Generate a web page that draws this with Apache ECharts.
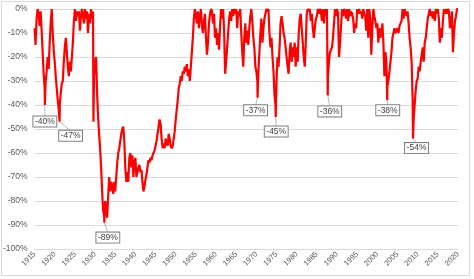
<!DOCTYPE html>
<html><head><meta charset="utf-8">
<script src="https://cdn.jsdelivr.net/npm/echarts@6/dist/echarts.min.js"></script>
<style>html,body{margin:0;padding:0;background:#fff}#c{width:474px;height:279px}</style>
</head><body><div id="c"></div>
<script>
// Quarterly drawdown values (%), one array per decade
const q1915 = [-8,-15,-4,0, -2,-7,-1,-9, -18,-27,-33,-30, -26,-20,-25,-14, -6,0,-10,-17, -22,-28,-33,-38, -42,-40,-35,-31, -30,-22,-16,-12, -18,-24,-28,-22, -26,-20,-14,-5];
const q1925 = [0,-5,-1,-3, -1,-9,-3,0, -3,-6,0,-4, -1,-10,-2,-6, 0,-4,-1,-28, -22,-20,-35,-45, -52,-58,-66,-76, -84,-86,-80,-82, -87,-78,-70,-76, -72,-74,-77,-72];
const q1935 = [-76,-70,-64,-60, -58,-55,-52,-50, -49,-55,-66,-72, -68,-72,-62,-60, -66,-61,-70,-64, -62,-70,-68,-66, -65,-68,-67,-72, -76,-74,-71,-69, -66,-63,-64,-62, -63,-61,-60,-59];
const q1945 = [-57,-55,-52,-49, -46,-48,-54,-58, -56,-58,-54,-56, -57,-52,-54,-57, -58,-57,-54,-51, -46,-42,-38,-33, -31,-28,-30,-26, -27,-24,-26,-23, -28,-25,-30,-24, -18,-12,-4,0];
const q1955 = [0,-6,-1,-8, -3,0,-7,-10, -5,-2,-12,-19, -14,-6,-2,0, -1,-6,-2,-12, -8,-15,-10,-17, -7,0,-4,0, -9,-27,-22,-16, -10,-4,-1,-5, 0,-3,0,-2];
const q1965 = [0,-8,-1,-3, 0,-10,-18,-24, -12,-6,-14,-9, -15,-8,-3,0, -5,-12,-16,-24, -26,-30,-26,-18, -10,-4,-14,-8, -4,-2,0,-1, 0,-10,-16,-12, -20,-26,-36,-40];
const q1975 = [-30,-20,-24,-16, -6,-3,-6,-10, -12,-16,-20,-24, -27,-18,-14,-22, -16,-20,-14,-24, -16,-22,-10,-4, -2,-8,-14,-20, -24,-14,-2,0, -1,0,-5,-2, -8,-12,-8,-4];
const q1985 = [-3,0,-2,0, -1,-5,0,-6, 0,-3,0,-28, -22,-18,-18,-16, -12,-6,0,-3, 0,-2,-20,-14, -7,0,-3,0, -1,-4,0,-5, 0,-3,-1,-2, -4,-10,-6,-8];
const q1995 = [0,-2,0,-2, -1,-4,0,-2, -3,-9,0,-12, 0,-4,-19,-8, 0,-3,-5,-8, -6,-14,-8,-12, -10,-6,-14,-28, -18,-22,-32,-30, -30,-22,-18,-12, -10,-8,-10,-9];
const q2005 = [-8,-10,-7,-6, -5,0,-4,0, 0,-3,-1,-6, -12,-16,-22,-38, -46,-40,-34,-30, -29,-24,-26,-22, -19,-16,-22,-14, -12,-8,-4,-2, 0,-3,-1,-4, -1,-5,0,-2];
const q2015 = [0,-4,-14,-8, -12,-5,0,-2, 0,-2,0,-1, -8,-6,-1,-18, -10,-5,-3,0, 0];
const decadeStarts = [1915,1925,1935,1945,1955,1965,1975,1985,1995,2005,2015];
// Sharp intra-quarter moves
const spikeDates = [1929.6];
const spikeValues = [-47];
// Labelled troughs
const troughDates = [1917.55, 1921.2, 1932.3, 1970.3, 1974.8, 1987.7, 2002.45, 2008.85];
const troughValues = [-40, -47, -89, -37, -45, -36, -38, -54];

const decades = [q1915,q1925,q1935,q1945,q1955,q1965,q1975,q1985,q1995,q2005,q2015];
let pts = [];
decades.forEach((arr, d) => arr.forEach((v, i) => pts.push([decadeStarts[d] + i / 4, v])));
spikeDates.forEach((t, i) => pts.push([t, spikeValues[i]]));
troughDates.forEach((t, i) => pts.push([t, troughValues[i]]));
pts.sort((a, b) => a[0] - b[0]);

// label box offsets (px) from each trough – layout only
const boxOff = [[0,16.5],[11,14],[3.5,15],[-2,12.5],[0.5,14.5],[2,16],[0.5,10],[3.5,9.5]];

const chart = echarts.init(document.getElementById('c'), null, {renderer: 'canvas'});
const FONT = '"Liberation Sans", Arial, sans-serif';
chart.setOption({
  animation: false,
  backgroundColor: '#fff',
  grid: {left: 33, right: 16, top: 9, bottom: 30},
  xAxis: {
    type: 'value', min: 1915, max: 2020, interval: 5,
    axisLine: {show: true, lineStyle: {color: '#d9d9d9'}},
    axisTick: {show: false},
    splitLine: {show: false},
    axisLabel: {rotate: 45, fontSize: 7.5, color: '#595959', fontFamily: FONT, margin: 4,
      formatter: v => String(v)}
  },
  yAxis: {
    type: 'value', min: -100, max: 0, interval: 10,
    axisLine: {show: false}, axisTick: {show: false},
    splitLine: {lineStyle: {color: '#d9d9d9', width: 1}},
    axisLabel: {fontSize: 8.5, color: '#595959', fontFamily: FONT, margin: 7,
      formatter: v => v + '%'}
  },
  series: [
    {
      type: 'line', data: pts, showSymbol: false, symbol: 'none',
      lineStyle: {color: '#ff0000', width: 2.2}, z: 3
    },
    {
      type: 'custom', coordinateSystem: 'cartesian2d', z: 5, clip: false,
      data: troughDates.map((t, i) => [t, troughValues[i]]),
      renderItem: function (params, api) {
        const p = api.coord([api.value(0), api.value(1)]);
        const o = boxOff[params.dataIndex];
        const cx = p[0] + o[0], cy = p[1] + o[1];
        return {
          type: 'group',
          children: [
            {type: 'line', shape: {x1: p[0], y1: p[1], x2: cx, y2: cy - 5},
             style: {stroke: '#a6a6a6', lineWidth: 0.8}},
            {type: 'text', x: cx, y: cy,
             style: {text: api.value(1) + '%', fill: '#404040', font: '8.5px ' + FONT,
               align: 'center', verticalAlign: 'middle',
               backgroundColor: '#fff', borderColor: '#7f7f7f', borderWidth: 1,
               padding: [1, 1.5, 0, 1.5]}}
          ]
        };
      }
    }
  ],
  graphic: [{type: 'rect', shape: {x: 1.5, y: 1.5, width: 468, height: 274},
    style: {fill: 'none', stroke: '#d9d9d9', lineWidth: 1}, silent: true, z: -1}]
});
</script></body></html>
